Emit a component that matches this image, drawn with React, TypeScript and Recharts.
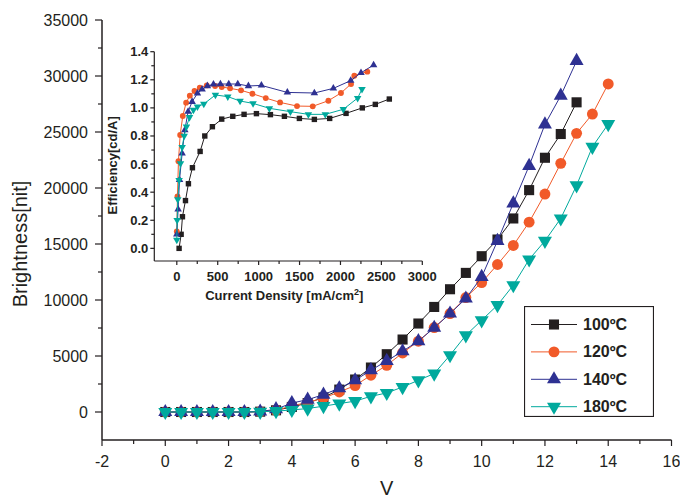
import React from "react";
import { ScatterChart, Scatter, XAxis, YAxis, Legend } from "recharts";

const INK = "#231f20";
const FONT = '"Liberation Sans", Arial, sans-serif';

// main plot: brightness vs voltage
const voltage = [0, 0.5, 1, 1.5, 2, 2.5, 3, 3.5, 4, 4.5, 5, 5.5, 6, 6.5, 7, 7.5, 8, 8.5, 9, 9.5, 10, 10.5, 11, 11.5, 12, 12.5, 13, 13.5, 14];
const bright100 = [0, 0, 0, 0, 0, 0, 30, 150, 450, 800, 1300, 2000, 2900, 3970, 5160, 6470, 7900, 9380, 10960, 12420, 13910, 15400, 17280, 19810, 22700, 24820, 27650];
const bright120 = [0, 0, 0, 0, 0, 0, 30, 150, 550, 850, 1250, 1790, 2360, 3280, 4170, 5270, 6320, 7540, 8790, 10220, 11560, 13170, 14870, 16950, 19460, 22200, 24880, 26600, 29290];
const bright140 = [0, 0, 0, 0, 0, 0, 40, 250, 800, 1100, 1550, 2120, 2830, 3730, 4560, 5420, 6330, 7520, 8790, 10130, 12060, 15280, 18620, 21980, 25680, 28240, 31340];
const bright180 = [0, 0, 0, 0, 0, 0, 20, 80, 180, 310, 520, 750, 970, 1400, 1700, 2230, 2830, 3430, 5070, 6850, 8190, 9540, 11320, 13620, 15280, 17280, 20230, 23680, 25710];

// inset: efficiency vs current density
const j100 = [28, 53, 69, 106, 142, 191, 285, 342, 435, 549, 684, 822, 973, 1144, 1315, 1498, 1681, 1868, 2068, 2267, 2426, 2597];
const e100 = [0, 0.1, 0.225, 0.34, 0.46, 0.574, 0.69, 0.8, 0.866, 0.92, 0.94, 0.954, 0.959, 0.952, 0.94, 0.925, 0.918, 0.925, 0.961, 1.0, 1.025, 1.063];
const j120 = [0, 8, 20, 41, 73, 114, 159, 216, 281, 366, 468, 549, 651, 785, 924, 1087, 1262, 1469, 1661, 1852, 2006, 2129, 2169, 2328];
const e120 = [0.12, 0.37, 0.62, 0.807, 0.942, 1.037, 1.087, 1.12, 1.144, 1.16, 1.156, 1.149, 1.139, 1.125, 1.101, 1.07, 1.039, 1.013, 1.011, 1.051, 1.106, 1.17, 1.229, 1.258];
const j140 = [0, 16, 33, 65, 98, 138, 187, 252, 309, 374, 448, 533, 635, 745, 875, 1034, 1351, 1681, 1913, 2125, 2251, 2405];
const e140 = [0.1, 0.278, 0.487, 0.676, 0.842, 0.973, 1.044, 1.103, 1.132, 1.156, 1.168, 1.17, 1.17, 1.17, 1.156, 1.16, 1.11, 1.106, 1.139, 1.194, 1.25, 1.305];
const j180 = [0, 4, 12, 28, 45, 65, 90, 118, 155, 203, 252, 330, 472, 623, 773, 932, 1131, 1388, 1608, 1815, 2035, 2210, 2263];
const e180 = [0.06, 0.2, 0.349, 0.486, 0.605, 0.72, 0.8, 0.866, 0.933, 0.985, 1.009, 1.028, 1.092, 1.08, 1.049, 1.032, 0.997, 0.973, 0.954, 0.954, 0.99, 1.07, 1.134];

const seriesNames = ["100ºC", "120ºC", "140ºC", "180ºC"];
const seriesColors = [INK, "#f15a29", "#2e3192", "#00a99d"];
const seriesShapes = ["square", "circle", "up", "down"];

const mainXTicks = [-2, -1, 0, 1, 2, 3, 4, 5, 6, 7, 8, 9, 10, 11, 12, 13, 14, 15, 16];
const mainYTicks = [0, 2500, 5000, 7500, 10000, 12500, 15000, 17500, 20000, 22500, 25000, 27500, 30000, 32500, 35000];
const insetXTicks = [0, 250, 500, 750, 1000, 1250, 1500, 1750, 2000, 2250, 2500, 2750, 3000];
const insetYTicks = [0, 0.1, 0.2, 0.3, 0.4, 0.5, 0.6, 0.7, 0.8, 0.9, 1.0, 1.1, 1.2, 1.3, 1.4];

const toPoints = (xs: number[], ys: number[]) => ys.map((y, i) => ({ x: xs[i], y }));
const mainData = [bright100, bright120, bright140, bright180].map((b) => toPoints(voltage, b));
const insetData = [
  toPoints(j100, e100),
  toPoints(j120, e120),
  toPoints(j140, e140),
  toPoints(j180, e180),
];

function Marker({ kind, cx, cy, s, color }: { kind: string; cx: number; cy: number; s: number; color: string }) {
  if (cx == null || cy == null) return null;
  if (kind === "square") return <rect x={cx - s * 0.36} y={cy - s * 0.36} width={s * 0.72} height={s * 0.72} fill={color} />;
  if (kind === "circle") return <circle cx={cx} cy={cy} r={s * 0.39} fill={color} />;
  const h = s * 0.87;
  if (kind === "up")
    return <polygon points={`${cx},${cy - (h * 2) / 3} ${cx + s / 2},${cy + h / 3} ${cx - s / 2},${cy + h / 3}`} fill={color} />;
  return <polygon points={`${cx},${cy + (h * 2) / 3} ${cx + s / 2},${cy - h / 3} ${cx - s / 2},${cy - h / 3}`} fill={color} />;
}

type TickOpts = {
  side: "left" | "bottom";
  isMajor: (v: number) => boolean;
  fmt: (v: number) => string;
  major: number;
  minor: number;
  gap: number;
  fontSize: number;
  bold?: boolean;
};

function makeTick(o: TickOpts) {
  return (props: any) => {
    const { x, y, payload } = props;
    const v = payload.value;
    const major = o.isMajor(v);
    const len = major ? o.major : o.minor;
    const textProps = {
      fill: INK,
      fontSize: o.fontSize,
      fontFamily: FONT,
      fontWeight: o.bold ? 700 : 400,
    };
    if (o.side === "left") {
      return (
        <g>
          <line x1={x} y1={y} x2={x - len} y2={y} stroke={INK} strokeWidth={1.2} />
          {major && (
            <text x={x - o.gap} y={y} textAnchor="end" dominantBaseline="central" {...textProps}>
              {o.fmt(v)}
            </text>
          )}
        </g>
      );
    }
    return (
      <g>
        <line x1={x} y1={y} x2={x} y2={y + len} stroke={INK} strokeWidth={1.2} />
        {major && (
          <text x={x} y={y + o.gap} textAnchor="middle" dominantBaseline="central" {...textProps}>
            {o.fmt(v)}
          </text>
        )}
      </g>
    );
  };
}

const mainYTick = makeTick({ side: "left", isMajor: (v) => v % 5000 === 0, fmt: (v) => String(v), major: 7, minor: 4, gap: 14, fontSize: 16 });
const mainXTick = makeTick({ side: "bottom", isMajor: (v) => v % 2 === 0, fmt: (v) => String(v), major: 6, minor: 4, gap: 21, fontSize: 16 });
const insetYTick = makeTick({ side: "left", isMajor: (v) => Math.round(v * 10) % 2 === 0, fmt: (v) => v.toFixed(1), major: 4, minor: 3, gap: 6, fontSize: 13, bold: true });
const insetXTick = makeTick({ side: "bottom", isMajor: (v) => v % 500 === 0, fmt: (v) => String(v), major: 4, minor: 3, gap: 15, fontSize: 13, bold: true });

const renderLegend = () => (
  <svg width={130} height={111} style={{ display: "block" }}>
    <rect x={0.5} y={0.5} width={129} height={110} fill="#fff" stroke={INK} strokeWidth={1.2} />
    {seriesNames.map((name, i) => {
      const cy = 18.5 + i * 27.4;
      return (
        <g key={name}>
          <line x1={7} x2={53} y1={cy} y2={cy} stroke={seriesColors[i]} strokeWidth={1} />
          <Marker kind={seriesShapes[i]} cx={30} cy={cy} s={14} color={seriesColors[i]} />
          <text x={59} y={cy} dominantBaseline="central" fontFamily={FONT} fontWeight={700} fontSize={16} fill={INK}>
            {name}
          </text>
        </g>
      );
    })}
  </svg>
);

function MainChart() {
  return (
    <ScatterChart width={680} height={500} margin={{ top: 20, right: 8.5, bottom: 10, left: 32 }}>
      <XAxis
        type="number"
        dataKey="x"
        domain={[-2, 16]}
        ticks={mainXTicks}
        interval={0}
        height={50}
        tickSize={0}
        tickMargin={0}
        tickLine={false}
        tick={mainXTick}
        axisLine={{ stroke: INK, strokeWidth: 1.5 }}
        allowDataOverflow
        label={{
          content: ({ viewBox }: any) => (
            <text x={viewBox.x + viewBox.width / 2} y={viewBox.y + 48} textAnchor="middle" dominantBaseline="central" fontFamily={FONT} fontSize={20} fill={INK}>
              V
            </text>
          ),
        }}
      />
      <YAxis
        type="number"
        dataKey="y"
        domain={[-2500, 35000]}
        ticks={mainYTicks}
        interval={0}
        width={70}
        tickSize={0}
        tickMargin={0}
        tickLine={false}
        tick={mainYTick}
        axisLine={{ stroke: INK, strokeWidth: 1.5 }}
        allowDataOverflow
        label={{
          content: ({ viewBox }: any) => {
            const cx = viewBox.x - 12;
            const cy = viewBox.y + viewBox.height / 2 + 14;
            return (
              <text x={cx} y={cy} transform={`rotate(-90 ${cx} ${cy})`} textAnchor="middle" dominantBaseline="central" fontFamily={FONT} fontSize={20} fill={INK}>
                Brightness[nit]
              </text>
            );
          },
        }}
      />
      <XAxis xAxisId="top" orientation="top" type="number" domain={[-2, 16]} ticks={mainXTicks} interval={0} height={0} tick={false} tickSize={2} axisLine={{ stroke: INK, strokeWidth: 1.5 }} tickLine={{ stroke: INK }} allowDataOverflow />
      <YAxis yAxisId="right" orientation="right" type="number" domain={[-2500, 35000]} ticks={mainYTicks} interval={0} width={0} tick={false} tickSize={3} axisLine={{ stroke: INK, strokeWidth: 1.5 }} tickLine={{ stroke: INK }} allowDataOverflow />
      {mainData.map((d, i) => (
        <Scatter
          key={seriesNames[i]}
          name={seriesNames[i]}
          data={d}
          fill={seriesColors[i]}
          line={{ stroke: seriesColors[i], strokeWidth: 1 }}
          lineType="joint"
          isAnimationActive={false}
          shape={(p: any) => <Marker kind={seriesShapes[i]} cx={p.cx} cy={p.cy} s={14} color={seriesColors[i]} />}
        />
      ))}
      <Legend
        layout="horizontal"
        verticalAlign="middle"
        align="center"
        content={renderLegend}
        wrapperStyle={{ position: "absolute", left: 524, top: 306, width: 130, height: 111 }}
      />
    </ScatterChart>
  );
}

function InsetChart() {
  return (
    <ScatterChart width={345} height={270} margin={{ top: 11.7, right: 22.7, bottom: 9, left: 10 }}>
      <XAxis
        type="number"
        dataKey="x"
        domain={[-275, 3000]}
        ticks={insetXTicks}
        interval={0}
        height={40}
        tickSize={0}
        tickMargin={0}
        tickLine={false}
        tick={insetXTick}
        axisLine={{ stroke: INK, strokeWidth: 1.2 }}
        allowDataOverflow
        label={{
          content: ({ viewBox }: any) => (
            <text x={viewBox.x + viewBox.width / 2 - 4} y={viewBox.y + 39} textAnchor="middle" fontFamily={FONT} fontWeight={700} fontSize={13} fill={INK}>
              Current Density [mA/cm
              <tspan dy={-5} fontSize={9}>2</tspan>
              <tspan dy={5}>]</tspan>
            </text>
          ),
        }}
      />
      <YAxis
        type="number"
        dataKey="y"
        domain={[-0.09, 1.4]}
        ticks={insetYTicks}
        interval={0}
        width={44.3}
        tickSize={0}
        tickMargin={0}
        tickLine={false}
        tick={insetYTick}
        axisLine={{ stroke: INK, strokeWidth: 1.2 }}
        allowDataOverflow
        label={{
          content: ({ viewBox }: any) => {
            const cx = viewBox.x + 3;
            const cy = viewBox.y + viewBox.height / 2 + 9;
            return (
              <text x={cx} y={cy} transform={`rotate(-90 ${cx} ${cy})`} textAnchor="middle" dominantBaseline="central" fontFamily={FONT} fontWeight={700} fontSize={13} fill={INK}>
                Efficiency[cd/A]
              </text>
            );
          },
        }}
      />
      <XAxis xAxisId="top" orientation="top" type="number" domain={[-275, 3000]} ticks={insetXTicks} interval={0} height={0} tick={false} tickSize={2} axisLine={{ stroke: INK, strokeWidth: 1.2 }} tickLine={{ stroke: INK }} allowDataOverflow />
      <YAxis yAxisId="right" orientation="right" type="number" domain={[-0.09, 1.4]} ticks={insetYTicks} interval={0} width={0} tick={false} tickSize={2} axisLine={{ stroke: INK, strokeWidth: 1.2 }} tickLine={{ stroke: INK }} allowDataOverflow />
      {insetData.map((d, i) => (
        <Scatter
          key={seriesNames[i]}
          name={seriesNames[i]}
          data={d}
          fill={seriesColors[i]}
          line={{ stroke: seriesColors[i], strokeWidth: 1 }}
          lineType="joint"
          isAnimationActive={false}
          shape={(p: any) => <Marker kind={seriesShapes[i]} cx={p.cx} cy={p.cy} s={7.5} color={seriesColors[i]} />}
        />
      ))}
    </ScatterChart>
  );
}

export default function App() {
  return (
    <div style={{ position: "absolute", left: 0, top: 0, width: 680, height: 500, background: "#fff", fontFamily: FONT }}>
      <MainChart />
      <div style={{ position: "absolute", left: 100, top: 40, width: 345, height: 270 }}>
        <InsetChart />
      </div>
    </div>
  );
}
